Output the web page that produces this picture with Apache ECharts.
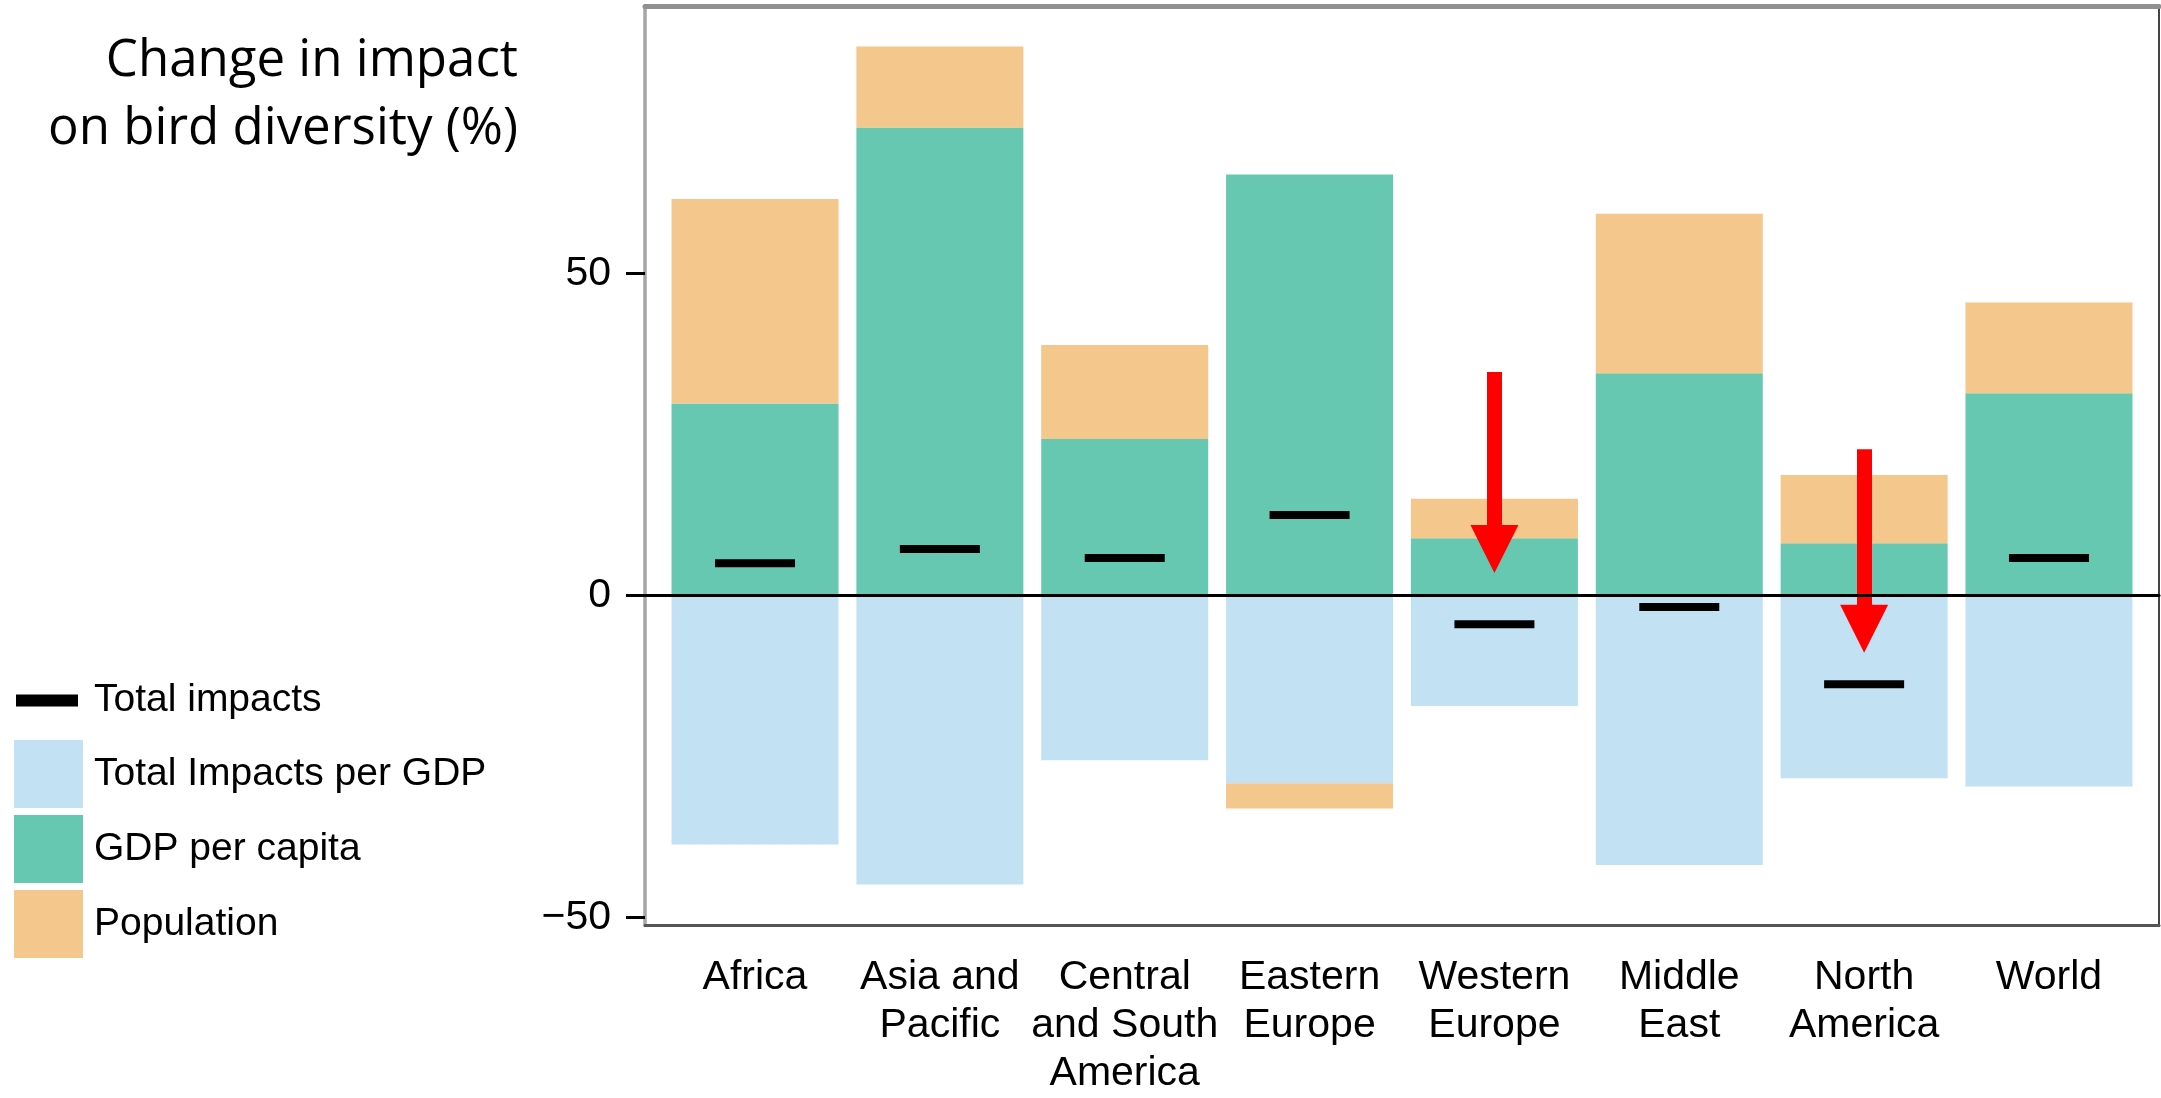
<!DOCTYPE html>
<html><head><meta charset="utf-8">
<script src="https://cdn.jsdelivr.net/npm/echarts@6/dist/echarts.min.js"></script>
<style>html,body{margin:0;padding:0;background:#fff}#c{width:2161px;height:1098px}</style>
</head><body><div id="c"></div>
<script>
const categories = ['Africa','Asia and\nPacific','Central\nand South\nAmerica','Eastern\nEurope','Western\nEurope','Middle\nEast','North\nAmerica','World'];
const impactsPerGDP = [-38.7,-44.9,-25.6,-29.2,-17.2,-41.9,-28.4,-29.7];
const gdpPerCapita = [29.8,72.7,24.3,65.4,8.9,34.5,8.1,31.4];
const population = [31.8,12.6,14.6,-3.9,6.1,24.8,10.6,14.1];
const totalImpacts = [5.0,7.2,5.8,12.5,-4.5,-1.8,-13.8,5.8];
const yTicks = [-50,0,50];
const arrowAt = ['Western\nEurope','North\nAmerica'];
const arrowStart = [34.7,22.7];
const arrowTip = [3.5,-8.9];

const BLUE='#c2e2f4', GREEN='#66c8b0', ORANGE='#f4c78c';
const FONT='Liberation Sans';
const YMIN=-51.21, YMAX=91.58;
const PX_PER_UNIT = 919/(YMAX-YMIN);
const headHalf = 24/PX_PER_UNIT;

const markData = [];
arrowAt.forEach((c,k)=>{
  markData.push([
    {coord:[c,arrowStart[k]], symbol:'none'},
    {coord:[c,arrowTip[k]+headHalf], symbol:'triangle', symbolSize:[48,48]}
  ]);
});

const chart = echarts.init(document.getElementById('c'), null, {renderer:'canvas'});
const hidden = {axisLine:{show:false}, axisTick:{show:false}, axisLabel:{show:false}, splitLine:{show:false}};
chart.setOption({
  animation:false,
  backgroundColor:'#fff',
  title:{
    text:'Change in impact\non bird diversity (%)',
    left:518, top:27, padding:0, textAlign:'right',
    textStyle:{fontFamily:'Open Sans', fontSize:51, lineHeight:68, fontWeight:'normal', color:'#000'}
  },
  legend:[
    {data:['Total impacts'], left:16, top:681, padding:0, itemWidth:62, itemHeight:12, icon:'rect',
     selectedMode:false,
     textStyle:{fontFamily:FONT, fontSize:39, color:'#000', padding:[0,0,0,11]}},
    {data:['Total Impacts per GDP','GDP per capita','Population'], orient:'vertical', left:14, top:740,
     padding:0, itemWidth:69, itemHeight:68, itemGap:7, icon:'rect', selectedMode:false,
     textStyle:{fontFamily:FONT, fontSize:39, color:'#000', padding:[0,0,0,6]}}
  ],
  grid:[
    {left:662.6, right:19.6, top:6, bottom:173, containLabel:false},
    {left:645, right:2, top:6, bottom:173, containLabel:false}
  ],
  xAxis:[
    {type:'category', gridIndex:0, data:categories, position:'bottom', boundaryGap:true,
     axisLine:{show:false},
     axisTick:{show:true, alignWithLabel:true, length:18, lineStyle:{color:'#000', width:2.5}},
     axisLabel:{show:true, interval:0, fontFamily:FONT, fontSize:41, lineHeight:48, color:'#000', margin:29},
     splitLine:{show:false}},
    Object.assign({type:'value', gridIndex:1, position:'bottom', min:0, max:1}, hidden,
     {axisLine:{show:true, onZero:false, lineStyle:{color:'#555', width:3}}}),
    Object.assign({type:'value', gridIndex:1, position:'top', min:0, max:1}, hidden,
     {axisLine:{show:true, onZero:false, lineStyle:{color:'#909090', width:5}}}),
    Object.assign({type:'value', gridIndex:1, position:'bottom', min:0, max:1, z:10}, hidden,
     {axisLine:{show:true, onZero:true, onZeroAxisIndex:1, lineStyle:{color:'#000', width:3}}})
  ],
  yAxis:[
    Object.assign({type:'value', gridIndex:0, min:YMIN, max:YMAX}, hidden),
    {type:'value', gridIndex:1, position:'left', min:YMIN, max:YMAX,
     axisLine:{show:true, onZero:false, lineStyle:{color:'#a6a6a6', width:3.5}},
     axisTick:{show:true, customValues:yTicks, length:19, lineStyle:{color:'#000', width:3}},
     axisLabel:{show:true, customValues:yTicks, formatter:v=>String(v).replace('-','\u2212'),
       fontFamily:FONT, fontSize:41, color:'#000', margin:34},
     splitLine:{show:false}},
    Object.assign({type:'value', gridIndex:1, position:'right', min:YMIN, max:YMAX}, hidden,
     {axisLine:{show:true, onZero:false, lineStyle:{color:'#444', width:2}}})
  ],
  series:[
    {name:'Total Impacts per GDP', type:'bar', stack:'s', barWidth:167, data:impactsPerGDP,
     itemStyle:{color:BLUE}, emphasis:{disabled:true}},
    {name:'GDP per capita', type:'bar', stack:'s', barWidth:167, data:gdpPerCapita,
     itemStyle:{color:GREEN}, emphasis:{disabled:true}},
    {name:'Population', type:'bar', stack:'s', barWidth:167, data:population,
     itemStyle:{color:ORANGE}, emphasis:{disabled:true}},
    {name:'Total impacts', type:'scatter', symbol:'rect', symbolSize:[80,8], z:5, data:totalImpacts,
     itemStyle:{color:'#000', opacity:1}, emphasis:{disabled:true},
     markLine:{silent:true, animation:false, label:{show:false}, emphasis:{disabled:true},
       lineStyle:{color:'#ff0000', width:15, type:'solid', cap:'butt', opacity:1},
       itemStyle:{color:'#ff0000'}, data:markData}}
  ]
});
</script></body></html>
